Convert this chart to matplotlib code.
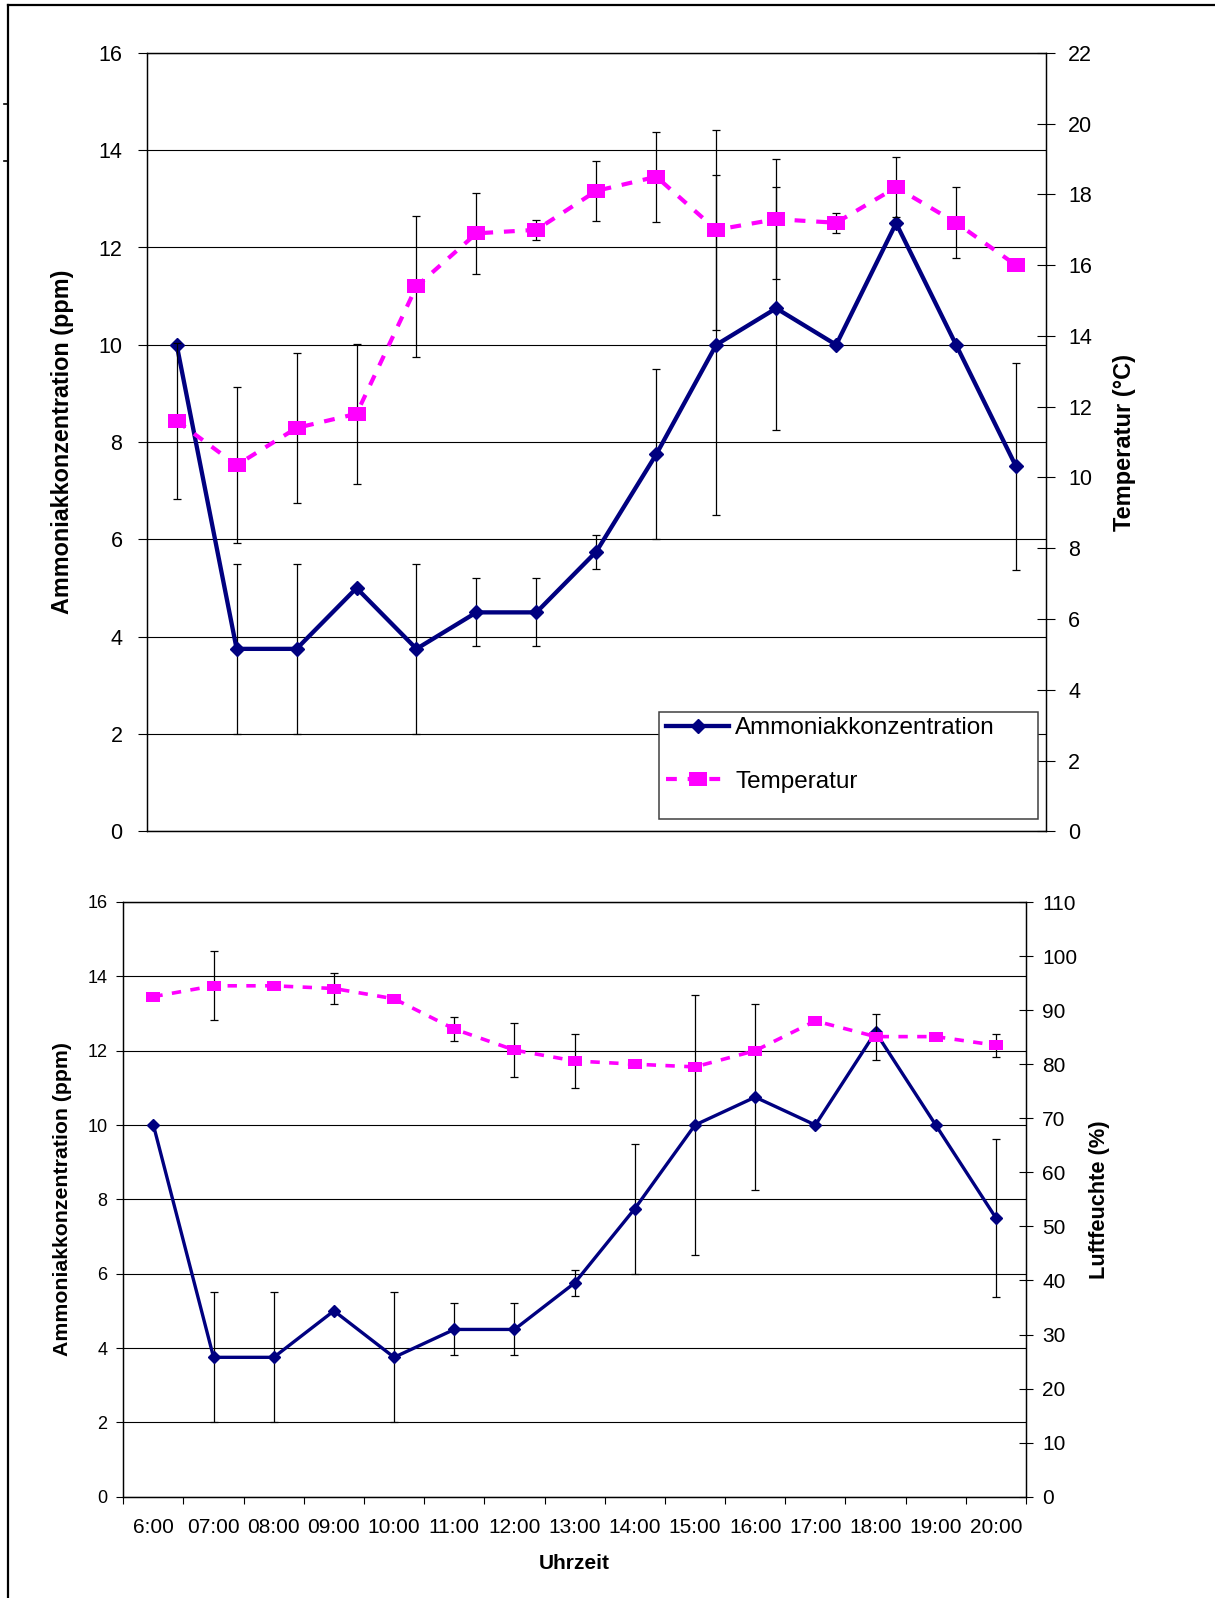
import numpy as np
import matplotlib
matplotlib.use("Agg")
import matplotlib.pyplot as plt
from matplotlib.patches import Rectangle
from matplotlib.lines import Line2D

plt.rcParams['font.family'] = ['Liberation Sans', 'DejaVu Sans']

# Werte
hours = ["6:00", "07:00", "08:00", "09:00", "10:00", "11:00", "12:00", "13:00",
         "14:00", "15:00", "16:00", "17:00", "18:00", "19:00", "20:00"]
ammoniak = [10, 3.75, 3.75, 5, 3.75, 4.5, 4.5, 5.75, 7.75, 10, 10.75, 10, 12.5, 10, 7.5]
ammoniak_err = [0, 1.75, 1.75, 0, 1.75, 0.7, 0.7, 0.35, 1.75, 3.5, 2.5, 0, 0, 0, 2.12]
temperatur = [11.6, 10.35, 11.4, 11.8, 15.4, 16.9, 17.0, 18.1, 18.5, 17.0, 17.3, 17.2, 18.2, 17.2, 16.0]
temperatur_err = [2.2, 2.2, 2.12, 1.98, 2.0, 1.15, 0.28, 0.85, 1.27, 2.83, 1.7, 0.28, 0.85, 1.0, 0]
luftfeuchte = [92.5, 94.5, 94.5, 94.0, 92.1, 86.5, 82.6, 80.6, 80.0, 79.5, 82.5, 88.0, 85.1, 85.1, 83.5]
luftfeuchte_err = [0, 6.35, 0, 2.87, 0, 2.15, 5.0, 4.95, 0, 0, 0, 0, 4.25, 0, 2.1]

W, H = 1215, 1598
fig = plt.figure(figsize=(W / 100, H / 100), dpi=100)


def px_axes(left, top, right, bottom):
    return fig.add_axes([left / W, 1 - bottom / H, (right - left) / W, (bottom - top) / H])


def px_line(xs, ys, lw):
    fig.add_artist(Line2D([v / W for v in xs], [1 - v / H for v in ys],
                          transform=fig.transFigure, color='black', lw=lw))


def err_bars(ax, vals, errs, capsize):
    idx = [i for i, e in enumerate(errs) if e > 0]
    ax.errorbar(idx, [vals[i] for i in idx], yerr=[errs[i] for i in idx], fmt='none',
                ecolor='black', elinewidth=0.9, capsize=capsize, capthick=0.9, zorder=1)


x = np.arange(len(hours))
navy = '#000080'
magenta = '#FF00FF'
rect_marker = [(-0.65, -0.5), (0.65, -0.5), (0.65, 0.5), (-0.65, 0.5), (-0.65, -0.5)]

# outer frame (cropped)
px_line([8.3, 8.3], [5, H], 1.6)
px_line([8.3, W], [5, 5], 1.6)
px_line([4, 8.3], [104.3, 104.3], 1.2)
px_line([4, 8.3], [160.7, 160.7], 1.2)

# ---------- oberes Diagramm: Ammoniak + Temperatur ----------
ax1 = px_axes(146.7, 52.9, 1046, 831.3)
ax1b = ax1.twinx()

err_bars(ax1, ammoniak, ammoniak_err, 2.9)
l_amm, = ax1.plot(x, ammoniak, color=navy, lw=3.1, marker='D', ms=7.6, mec=navy, zorder=3)
err_bars(ax1b, temperatur, temperatur_err, 2.9)
l_temp, = ax1b.plot(x, temperatur, color=magenta, lw=3, ls=(0, (2.6, 2.6)),
                    marker=rect_marker, ms=12.6, mew=0, zorder=3)

ax1.set_xlim(-0.5, 14.5)
ax1.set_ylim(0, 16)
ax1.set_yticks(range(0, 17, 2))
ax1b.set_ylim(0, 22)
ax1b.set_yticks(range(0, 23, 2))
ax1.set_xticks([])
ax1.yaxis.grid(True, color='black', lw=0.8)
ax1.set_axisbelow(True)
ax1.tick_params(axis='y', direction='out', length=6.5, width=0.8, labelsize=15.5, pad=11)
ax1b.tick_params(axis='y', direction='inout', length=13, width=0.8, labelsize=15.5, pad=9.4)

ax1.set_ylabel('Ammoniakkonzentration (ppm)', fontsize=16.8, fontweight='bold', va='center')
ax1.yaxis.set_label_coords(-0.0931, 0.5)
ax1b.set_ylabel('Temperatur (°C)', fontsize=17, fontweight='bold', va='center')
ax1b.yaxis.set_label_coords(1.0878, 0.5)

# Legende
fig.add_artist(Rectangle((659 / W, 1 - 819 / H), (1037.7 - 659) / W, (819 - 711.7) / H,
                         transform=fig.transFigure, facecolor='white',
                         edgecolor='#404040', lw=1.1, zorder=4))
fig.legend([l_amm, l_temp], ['Ammoniakkonzentration', 'Temperatur'], loc='upper left',
           bbox_to_anchor=(666 / W, 1 - 717 / H), frameon=False, borderpad=0,
           borderaxespad=0, handlelength=2.6, handletextpad=0.25, labelspacing=1.3,
           fontsize=17.5, numpoints=1)

# ---------- unteres Diagramm: Ammoniak + Luftfeuchte ----------
ax2 = px_axes(123.3, 902, 1026, 1496.7)
ax2b = ax2.twinx()

err_bars(ax2, ammoniak, ammoniak_err, 2.6)
ax2.plot(x, ammoniak, color=navy, lw=2.4, marker='D', ms=6.1, mec=navy, zorder=3)
err_bars(ax2b, luftfeuchte, luftfeuchte_err, 2.6)
ax2b.plot(x, luftfeuchte, color=magenta, lw=2.6, ls=(0, (2.6, 2.6)),
          marker=rect_marker, ms=10, mew=0, zorder=3)

ax2.set_xlim(-0.5, 14.5)
ax2.set_ylim(0, 16)
ax2.set_yticks(range(0, 17, 2))
ax2b.set_ylim(0, 110)
ax2b.set_yticks(range(0, 111, 10))
ax2.set_xticks(x)
ax2.set_xticklabels(hours)
ax2.set_xticks(np.arange(-0.5, 15, 1), minor=True)
ax2.tick_params(axis='x', which='major', length=0, labelsize=15, pad=15)
ax2.tick_params(axis='x', which='minor', direction='out', length=4.7, width=0.8)
ax2.yaxis.grid(True, color='black', lw=0.8)
ax2.set_axisbelow(True)
ax2.tick_params(axis='y', direction='out', length=4.8, width=0.8, labelsize=13, pad=6.5)
ax2b.tick_params(axis='y', direction='inout', length=9.6, width=0.8, labelsize=15, pad=6.8)

ax2.set_ylabel('Ammoniakkonzentration (ppm)', fontsize=15.3, fontweight='bold', va='center')
ax2.yaxis.set_label_coords(-0.0668, 0.5)
ax2b.set_ylabel('Luftfeuchte (%)', fontsize=15.7, fontweight='bold', va='center')
ax2b.yaxis.set_label_coords(1.0809, 0.5)
ax2.set_xlabel('Uhrzeit', fontsize=15, fontweight='bold', va='center')
ax2.xaxis.set_label_coords(0.5, -0.1115)

for a in (ax1, ax1b, ax2, ax2b):
    for s in a.spines.values():
        s.set_color('black')
        s.set_linewidth(0.9)

fig.savefig('out.png', dpi=100)
